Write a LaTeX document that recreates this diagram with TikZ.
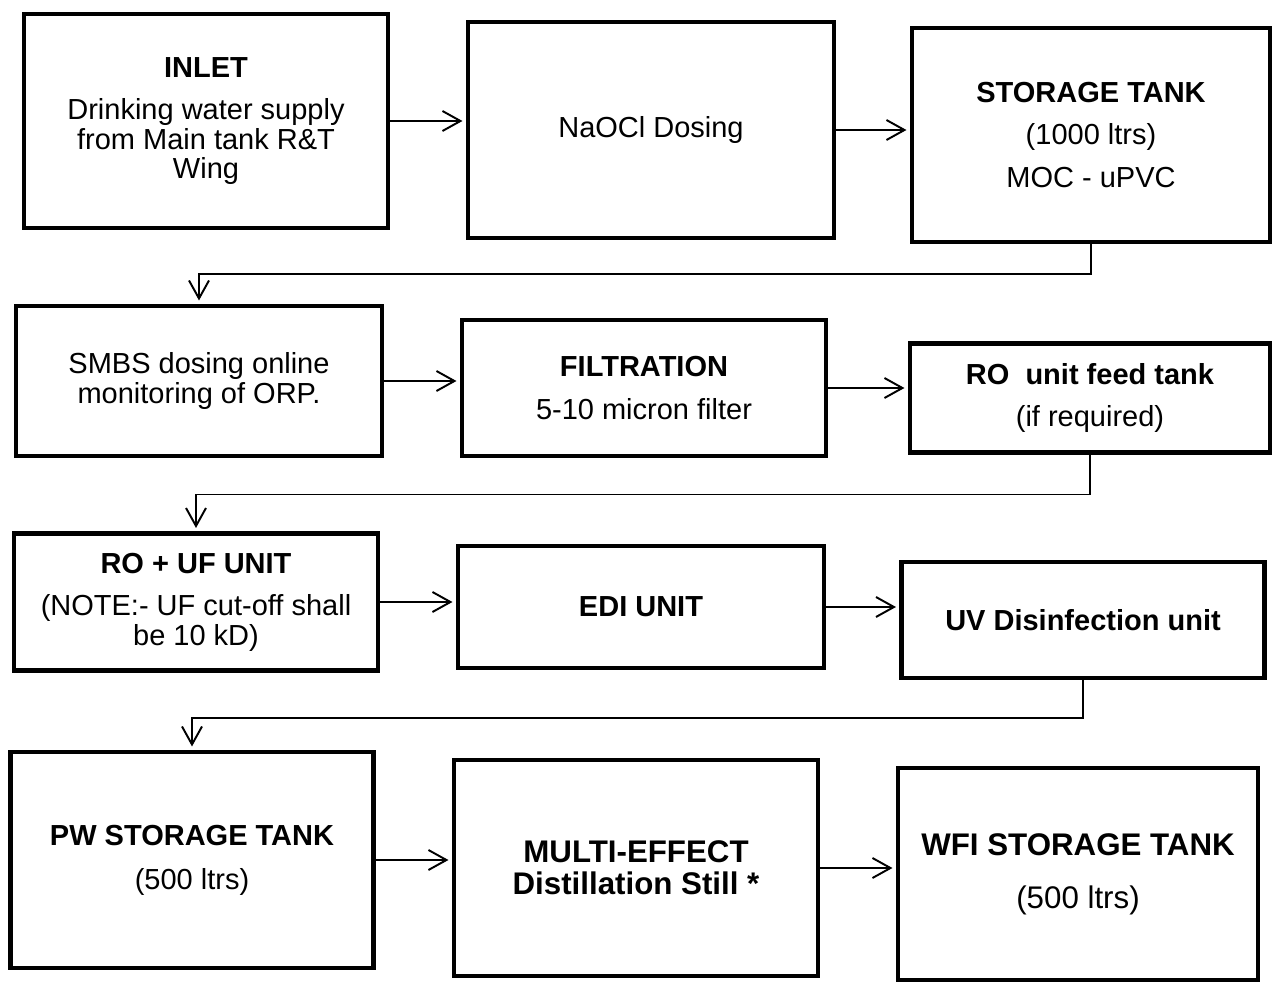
\documentclass[tikz,border=0pt]{standalone}
\usepackage{fontspec}
\setmainfont{Liberation Sans}
\usetikzlibrary{arrows.meta, positioning}

\begin{document}
\begin{tikzpicture}[x=0.2mm, y=-0.2mm, font=\fontsize{16.5}{17}\selectfont,
  stage/.style={draw, line width=2.3pt, align=center, inner sep=0pt},
  flow/.style={line width=1.1pt, shorten >=2pt,
    -{Straight Barb[length=3.6mm, width=4mm, line width=1.1pt]}}]
  \useasboundingbox (0,0) rectangle (1274,984);
  % first row
  \node[stage, minimum width=72.8mm, minimum height=42.8mm] (inlet) at (206,121)
    {\textbf{INLET}\\[7pt]Drinking water supply\\from Main tank R\&T\\Wing};
  \node[stage, minimum width=73.2mm, minimum height=43.2mm] (naocl) at (651,130) {NaOCl Dosing};
  \node[stage, minimum width=71.6mm, minimum height=42.8mm] (store) at (1091,135)
    {\textbf{STORAGE TANK}\\[7pt](1000 ltrs)\\[7pt]MOC - uPVC};
  % second row
  \node[stage, minimum width=73.2mm, minimum height=30mm] (smbs) at (199,381)
    {SMBS dosing online\\monitoring of ORP.};
  \node[stage, minimum width=72.8mm, minimum height=27.2mm] (filt) at (644,388)
    {\textbf{FILTRATION}\\[7pt]5-10 micron filter};
  \node[stage, minimum width=72mm, minimum height=21.8mm] (feed) at (1090,398)
    {\textbf{RO\ \ unit feed tank}\\[7pt](if required)};
  % third row
  \node[stage, minimum width=72.8mm, minimum height=27.4mm] (rouf) at (196,602)
    {\textbf{RO + UF UNIT}\\[7pt](NOTE:- UF cut-off shall\\be 10 kD)};
  \node[stage, minimum width=73.2mm, minimum height=24.4mm] (edi) at (641,607) {\textbf{EDI UNIT}};
  \node[stage, minimum width=72.6mm, minimum height=23.2mm] (uv) at (1083,620) {\textbf{UV Disinfection unit}};
  % fourth row
  \node[stage, minimum width=72.6mm, minimum height=43.2mm] (pw) at (192,860)
    {\textbf{PW STORAGE TANK}\\[8pt](500 ltrs)};
  \node[stage, minimum width=72.8mm, minimum height=43.2mm, font=\fontsize{17.8}{18}\selectfont\bfseries]
    (med) at (636,868) {MULTI-EFFECT\\Distillation Still *};
  \node[stage, minimum width=72mm, minimum height=42.4mm, font=\fontsize{17.8}{18}\selectfont]
    (wfi) at (1078,874) {\textbf{WFI STORAGE TANK}\\[12pt](500 ltrs)};
  % flow within a row
  \foreach \a/\b in {inlet/naocl, naocl/store, smbs/filt, filt/feed, rouf/edi, edi/uv, pw/med, med/wfi}
    \draw[flow] (\a.east) -- (\a.east -| \b.west);
  % back to the start of the next row
  \foreach \a/\b/\d in {store/smbs/30, feed/rouf/40, uv/pw/38}
    \draw[flow] (\a.south) -- ++(0,\d) -| (\b.north);
\end{tikzpicture}
\end{document}
